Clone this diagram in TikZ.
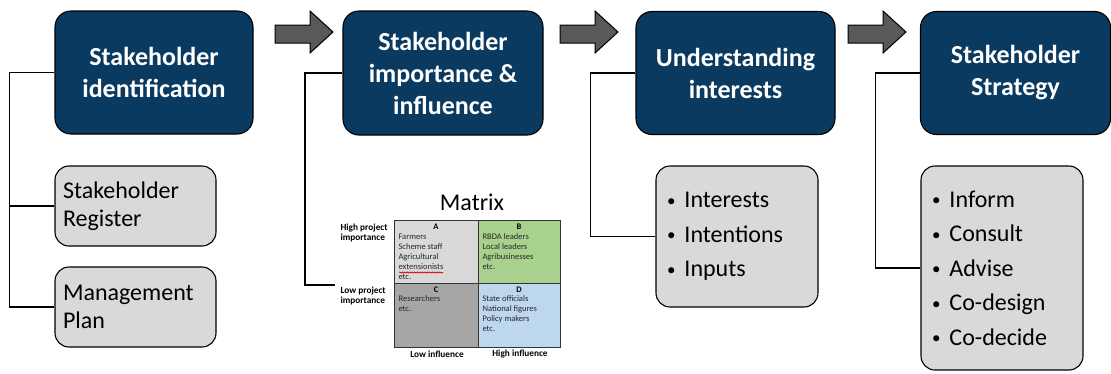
\documentclass[tikz,border=0pt]{standalone}
\usepackage{fontspec}
\setmainfont{Carlito}
\usepackage{tikz}
\usetikzlibrary{decorations.pathmorphing}

\definecolor{navy}{HTML}{0B3A60}
\definecolor{panelgrey}{HTML}{D9D9D9}
\definecolor{arrowgrey}{HTML}{595959}
\definecolor{cellA}{HTML}{D9D9D9}
\definecolor{cellB}{HTML}{A9D18E}
\definecolor{cellC}{HTML}{A6A6A6}
\definecolor{cellD}{HTML}{BDD7EE}

\newcommand{\listdot}{\raisebox{1.6pt}{\fontsize{17}{0}\selectfont\textbullet}\hspace{9pt}}

\begin{document}
\begin{tikzpicture}[x=1pt, y=-1pt, line width=1.1pt,
		stage/.style = {shape=rectangle, rounded corners=16pt, draw, fill=navy, text=white, align=center,
			inner sep=0pt, font=\bfseries\fontsize{26}{32}\selectfont},
		panel/.style = {shape=rectangle, rounded corners=14pt, draw, fill=panelgrey, align=left,
			inner xsep=8pt, inner ysep=0pt, font=\fontsize{24}{28}\selectfont},
		bullets/.style = {panel, inner xsep=11pt, font=\fontsize{24}{34.5}\selectfont},
		flowarrow/.style = {draw, fill=arrowgrey, line width=1pt, line join=miter},
		cell/.style = {draw=black!80, line width=0.8pt},
		celltext/.style = {anchor=north west, align=left, inner sep=0pt, text=black!85,
			font=\fontsize{8.5}{10}\selectfont},
		cellhead/.style = {inner sep=0pt, font=\bfseries\fontsize{8.5}{10}\selectfont},
		axislabel/.style = {inner sep=0pt, align=left, font=\bfseries\fontsize{9.3}{10.5}\selectfont}]
	\useasboundingbox (0,0) rectangle (1111,373);
	\fill[white] (0,0) rectangle (1111,373);

	% the four stages
	\node[stage, minimum width=198pt, minimum height=123pt] (ident) at (154,72.5) {Stakeholder\\identification};
	\node[stage, minimum width=200pt, minimum height=124pt] (importance) at (443,73) {Stakeholder\\importance \&\\influence};
	\node[stage, minimum width=199pt, minimum height=123pt] (interests) at (735.5,73) {Understanding\\interests};
	\node[stage, minimum width=190pt, minimum height=123pt] (strategy) at (1015.5,73) {Stakeholder\\Strategy};

	\foreach \ax in {275,560,848}
		\draw[flowarrow] (\ax,25) -- ++(35,0) -- ++(0,-14) -- ++(23,21) -- ++(-23,21) -- ++(0,-10) -- (\ax,43) -- cycle;

	% outputs of each stage
	\node[panel, minimum width=161pt, minimum height=80pt, text width=145pt] (register) at (135.5,206) {Stakeholder\\Register};
	\node[panel, minimum width=161pt, minimum height=80pt, text width=145pt] (mgmtplan) at (135.5,307) {Management\\Plan};
	\node[bullets, minimum width=162pt, minimum height=141pt, text width=140pt] (interestlist) at (737,236.5)
		{\listdot Interests\\\listdot Intentions\\\listdot Inputs};
	\node[bullets, minimum width=162pt, minimum height=204pt, text width=140pt] (strategylist) at (1002,268)
		{\listdot Inform\\\listdot Consult\\\listdot Advise\\\listdot Co-design\\\listdot Co-decide};

	% importance / influence matrix
	\node[inner sep=0pt, font=\fontsize{24}{28}\selectfont] (mtxtitle) at (472,202) {Matrix};
	\fill[cellA] (394,220) rectangle (478,283);
	\fill[cellB] (478,220) rectangle (560,283);
	\fill[cellC] (394,283) rectangle (478,347);
	\fill[cellD] (478,283) rectangle (560,347);
	\draw[cell] (394,220) rectangle (560,347) (478,220) -- (478,347) (394,283) -- (560,283);
	\node[cellhead] (headA) at (436,227) {A};
	\node[cellhead] (headB) at (519,227) {B};
	\node[cellhead] (headC) at (436,289.5) {C};
	\node[cellhead] (headD) at (519,289.5) {D};
	\node[celltext] (textA) at (398,233) {Farmers\\Scheme staff\\Agricultural\\extensionists\\etc.};
	\node[celltext] (textB) at (482,233) {RBDA leaders\\Local leaders\\Agribusinesses\\etc.};
	\node[celltext] (textC) at (398,295.5) {Researchers\\etc.};
	\node[celltext] (textD) at (482,295.5) {State officials\\National figures\\Policy makers\\etc.};
	\draw[red!85!black, line width=0.6pt, decorate, decoration={snake, amplitude=0.6pt, segment length=2.5pt}]
		(399,272.5) -- (443,272.5);
	\node[axislabel, anchor=north west] (highimp) at (340,223) {High project\\importance};
	\node[axislabel, anchor=north west] (lowimp) at (340,286) {Low project\\importance};
	\node[axislabel] (lowinf) at (437,354) {Low influence};
	\node[axislabel] (highinf) at (520,354) {High influence};
	\coordinate (mtxlink) at (335,285);

	% connectors from each stage down to its outputs
	\draw (ident.west) -| ([xshift=-45pt]mgmtplan.west) -- (mgmtplan.west);
	\draw (register.west) -- ++(-45pt,0);
	\draw (importance.west) -| ([xshift=-30pt]mtxlink) -- (mtxlink);
	\draw (interests.west) -| ([xshift=-65pt]interestlist.west) -- (interestlist.west);
	\draw (strategy.west) -| ([xshift=-45pt]strategylist.west) -- (strategylist.west);
\end{tikzpicture}
\end{document}
